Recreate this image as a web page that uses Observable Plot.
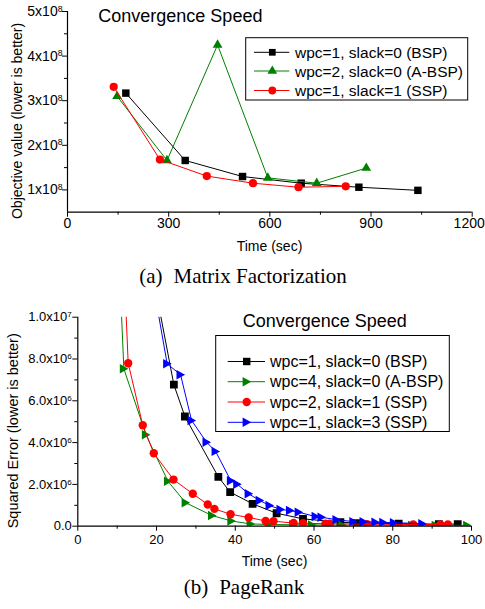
<!DOCTYPE html>
<html><head><meta charset="utf-8">
<script src="https://cdn.jsdelivr.net/npm/d3@7"></script>
<script src="https://cdn.jsdelivr.net/npm/@observablehq/plot@0.6"></script>
<style>
body{margin:0;background:#fff;}
#wrap{position:relative;width:485px;height:609px;overflow:hidden;font-family:"Liberation Sans",Arial,sans-serif;}
#chartA{position:absolute;left:0;top:0;}
#chartB{position:absolute;left:0;top:300px;}
#captions{position:absolute;left:0;top:0;}
</style></head><body>
<div id="wrap"><div id="chartA"></div><div id="chartB"></div><svg id="captions" width="485" height="609"></svg></div>
<script>
// ---------- (a) Matrix Factorization (objective in units of 1e8) ----------
const mfSeries = ["wpc=1, slack=0 (BSP)", "wpc=2, slack=0 (A-BSP)", "wpc=1, slack=1 (SSP)"];
const mfTimeBSP = [173, 349, 519, 693, 864, 1039];
const mfObjBSP  = [3.17, 1.66, 1.30, 1.15, 1.06, 0.99];
const mfTimeABSP = [147, 295, 445, 594, 739, 886];
const mfObjABSP  = [3.10, 1.66, 4.25, 1.27, 1.15, 1.49];
const mfTimeSSP = [137, 274, 413, 550, 685, 825];
const mfObjSSP  = [3.31, 1.68, 1.31, 1.15, 1.06, 1.08];
const mfXTicks = [0, 300, 600, 900, 1200];
const mfXMinor = [150, 450, 750, 1050];
const mfYTicks = [1, 2, 3, 4, 5];
const mfYMinor = [1.5, 2.5, 3.5, 4.5];
const mfYLabels = ["1x10^8", "2x10^8", "3x10^8", "4x10^8", "5x10^8"];

// ---------- (b) PageRank (squared error in units of 1e6) ----------
const prSeries = ["wpc=1, slack=0 (BSP)", "wpc=4, slack=0 (A-BSP)", "wpc=2, slack=1 (SSP)", "wpc=1, slack=3 (SSP)"];
const prTimeBSP = [19.5, 24.4, 27.2, 35.7, 38.7, 44.4, 50.5, 57.2, 66.7, 70.8, 81.5, 91.7, 96.5];
const prErrBSP  = [11.6, 6.77, 5.25, 2.36, 1.63, 1.07, 0.62, 0.35, 0.19, 0.15, 0.12, 0.10, 0.10];
const prTimeABSP = [6.1, 11.7, 17.3, 22.9, 27.4, 34.1, 39.0, 43.9, 48.5, 54.7, 59.5, 67.2, 72.6, 80.3, 84.9, 90.9, 98.9];
const prErrABSP  = [31.6, 7.53, 4.38, 2.15, 1.12, 0.51, 0.25, 0.11, 0.08, 0.07, 0.06, 0.05, 0.05, 0.04, 0.04, 0.04, 0.04];
const prTimeSSP2 = [9.0, 12.8, 16.5, 19.3, 24.3, 29.2, 33.0, 34.7, 38.8, 43.4, 47.7, 49.7, 54.8, 57.2, 62.9, 64.0, 73.5, 85.2, 92.1, 94.0];
const prErrSSP2  = [24.5, 7.80, 4.83, 3.49, 2.23, 1.55, 1.04, 0.83, 0.57, 0.42, 0.25, 0.24, 0.15, 0.14, 0.12, 0.12, 0.10, 0.08, 0.08, 0.08];
const prTimeSSP3 = [19.5, 22.7, 26.1, 28.9, 32.7, 35.0, 38.9, 40.5, 43.4, 46.2, 48.7, 51.5, 53.9, 56.1, 60.4, 61.9, 65.7, 70.0, 72.6, 75.6, 77.6, 80.3, 87.5];
const prErrSSP3  = [11.2, 7.77, 7.25, 5.06, 4.02, 3.58, 2.17, 2.01, 1.55, 1.23, 0.99, 0.80, 0.75, 0.67, 0.46, 0.43, 0.31, 0.22, 0.21, 0.19, 0.18, 0.17, 0.12];
const prXTicks = [0, 20, 40, 60, 80, 100];
const prXMinor = [10, 30, 50, 70, 90];
const prYTicks = [0, 2, 4, 6, 8, 10];
const prYMinor = [1, 3, 5, 7, 9];
const prYLabels = ["0.0", "2.0x10^6", "4.0x10^6", "6.0x10^6", "8.0x10^6", "1.0x10^7"];

const BLACK = "#000000", GREEN = "#008000", RED = "#ff0000", BLUE = "#0000ff";
const FONT = "Liberation Sans, Arial, Helvetica, sans-serif";

const zip = (ts, vs) => ts.map((t, i) => ({t, v: vs[i]}));

const triRight = {
  draw(ctx, size) {
    const r = Math.sqrt(size / Math.PI);
    ctx.moveTo(r, 0);
    ctx.lineTo(-r * 0.9, -r * 1.05);
    ctx.lineTo(-r * 0.9, r * 1.05);
    ctx.closePath();
  }
};

function supify(svg) {
  d3.select(svg).selectAll("text").each(function () {
    const s = this.textContent;
    const k = s.indexOf("^");
    if (k < 0) return;
    const t = d3.select(this);
    t.text(null);
    t.append("tspan").text(s.slice(0, k));
    t.append("tspan").attr("dy", "-0.5em").attr("font-size", "0.62em").text(s.slice(k + 1));
  });
}

function addLegend(svg, o) {
  const g = d3.select(svg).append("g").attr("text-anchor", "start");
  g.append("rect").attr("x", o.x0).attr("y", o.y0).attr("width", o.x1 - o.x0).attr("height", o.y1 - o.y0)
    .attr("fill", "white").attr("stroke", "black").attr("stroke-width", 1);
  o.entries.forEach((e, i) => {
    const y = o.ys[i];
    g.append("line").attr("x1", o.lx1).attr("x2", o.lx2).attr("y1", y).attr("y2", y)
      .attr("stroke", e.color).attr("stroke-width", 1);
    g.append("path").attr("transform", `translate(${o.mx},${y})`)
      .attr("d", d3.symbol(e.symbol, Math.PI * e.r * e.r)()).attr("fill", e.color);
    g.append("text").attr("x", o.tx).attr("y", y).attr("dy", "0.36em").attr("text-anchor", "start")
      .attr("font-family", FONT).attr("font-size", o.fontSize).attr("fill", "black").text(e.label);
  });
}

// ================= Chart A =================
const mfData = [
  {d: zip(mfTimeBSP, mfObjBSP), color: BLACK, symbol: "square", r: 4.2},
  {d: zip(mfTimeABSP, mfObjABSP), color: GREEN, symbol: "triangle", r: 3.6},
  {d: zip(mfTimeSSP, mfObjSSP), color: RED, symbol: "circle", r: 4.1}
];
const svgA = Plot.plot({
  width: 485, height: 262,
  marginLeft: 67, marginRight: 13.3, marginTop: 11, marginBottom: 50.3,
  x: {domain: [0, 1200], label: null},
  y: {domain: [0.5, 5], label: null},
  style: {fontFamily: FONT, fontSize: "14px", color: "#000", background: "transparent", overflow: "visible"},
  marks: [
    Plot.axisX({ticks: mfXTicks, tickSize: 5, tickPadding: 1, label: null, tickFormat: d => String(d)}),
    Plot.axisX({ticks: mfXMinor, tickSize: 3, label: null, tickFormat: () => ""}),
    Plot.axisY({ticks: mfYTicks, tickSize: 5, tickPadding: 0, label: null, tickFormat: d => mfYLabels[mfYTicks.indexOf(d)]}),
    Plot.axisY({ticks: mfYMinor, tickSize: 3, label: null, tickFormat: () => ""}),
    Plot.ruleX([0], {stroke: "black", strokeWidth: 1.2}),
    Plot.ruleY([0.5], {stroke: "black", strokeWidth: 1.2}),
    ...mfData.flatMap(s => [
      Plot.line(s.d, {x: "t", y: "v", stroke: s.color, strokeWidth: 1}),
      Plot.dot(s.d, {x: "t", y: "v", symbol: s.symbol, r: s.r, fill: s.color, stroke: "none"})
    ])
  ]
});
document.getElementById("chartA").appendChild(svgA);
supify(svgA);
{
  const s = d3.select(svgA);
  // keep the last x tick label inside the page
  s.selectAll("text").filter(function () { return this.textContent === "1200"; }).attr("dx", -3);
  s.append("text").attr("x", 98.3).attr("y", 21.7).attr("text-anchor", "start").attr("font-family", FONT).attr("font-size", 18).text("Convergence Speed");
  s.append("text").attr("x", 269.5).attr("y", 251).attr("text-anchor", "middle").attr("font-family", FONT).attr("font-size", 14).text("Time (sec)");
  s.append("text").attr("transform", "translate(21.7,121) rotate(-90)").attr("text-anchor", "middle").attr("font-family", FONT).attr("font-size", 14).text("Objective value (lower is better)");
  addLegend(svgA, {
    x0: 245.7, x1: 467.7, y0: 37.7, y1: 100,
    ys: [52.3, 71, 90.5], lx1: 254, lx2: 289.3, mx: 272.3, tx: 295, fontSize: 15.5,
    entries: mfSeries.map((label, i) => ({label, color: mfData[i].color,
      symbol: [d3.symbolSquare, d3.symbolTriangle, d3.symbolCircle][i], r: [3.8, 3.6, 3.9][i]}))
  });
}

// ================= Chart B =================
const prData = [
  {d: zip(prTimeBSP, prErrBSP), color: BLACK, symbol: "square", r: 4.4},
  {d: zip(prTimeABSP, prErrABSP), color: GREEN, symbol: triRight, r: 4.5},
  {d: zip(prTimeSSP2, prErrSSP2), color: RED, symbol: "circle", r: 4.2},
  {d: zip(prTimeSSP3, prErrSSP3), color: BLUE, symbol: triRight, r: 4.5}
];
const svgB = Plot.plot({
  width: 485, height: 275,
  marginLeft: 77.3, marginRight: 14, marginTop: 16.7, marginBottom: 49.3,
  x: {domain: [0, 100], label: null},
  y: {domain: [0, 10], label: null},
  style: {fontFamily: FONT, fontSize: "13px", color: "#000", background: "transparent", overflow: "visible"},
  marks: [
    Plot.axisX({ticks: prXTicks, tickSize: 5, tickPadding: 4, label: null, tickFormat: d => String(d)}),
    Plot.axisX({ticks: prXMinor, tickSize: 3, label: null, tickFormat: () => ""}),
    Plot.axisY({ticks: prYTicks, tickSize: 5, tickPadding: 1, label: null, tickFormat: d => prYLabels[prYTicks.indexOf(d)]}),
    Plot.axisY({ticks: prYMinor, tickSize: 3, label: null, tickFormat: () => ""}),
    ...prData.flatMap(s => [
      Plot.line(s.d, {x: "t", y: "v", stroke: s.color, strokeWidth: 1, clip: true}),
      Plot.dot(s.d, {x: "t", y: "v", symbol: s.symbol, r: s.r, fill: s.color, stroke: "none", clip: true})
    ]),
    Plot.ruleX([0], {stroke: "black", strokeWidth: 1.2}),
    Plot.ruleY([0], {stroke: "black", strokeWidth: 1.2})
  ]
});
document.getElementById("chartB").appendChild(svgB);
supify(svgB);
{
  const s = d3.select(svgB);
  s.append("text").attr("x", 242.7).attr("y", 26.7).attr("text-anchor", "start").attr("font-family", FONT).attr("font-size", 18).text("Convergence Speed");
  s.append("text").attr("x", 274.5).attr("y", 266).attr("text-anchor", "middle").attr("font-family", FONT).attr("font-size", 14).text("Time (sec)");
  s.append("text").attr("transform", "translate(17.5,130.8) rotate(-90)").attr("text-anchor", "middle").attr("font-family", FONT).attr("font-size", 14.5).text("Squared Error (lower is better)");
  addLegend(svgB, {
    x0: 215.7, x1: 449.3, y0: 35.5, y1: 131.5,
    ys: [61.5, 81.7, 102, 122.3], lx1: 227.7, lx2: 265, mx: 246.7, tx: 270, fontSize: 16,
    entries: prSeries.map((label, i) => ({label, color: prData[i].color,
      symbol: [d3.symbolSquare, triRight, d3.symbolCircle, triRight][i], r: [4.2, 4.5, 4.2, 4.5][i]}))
  });
}

// ================= Captions =================
{
  const c = d3.select("#captions");
  const a = c.append("text").attr("x", 243).attr("y", 283).attr("text-anchor", "middle")
    .attr("font-family", "Liberation Serif, Times New Roman, serif").attr("font-size", 21);
  a.append("tspan").text("(a)");
  a.append("tspan").attr("dx", 11).text("Matrix Factorization");
  const b = c.append("text").attr("x", 244).attr("y", 594).attr("text-anchor", "middle")
    .attr("font-family", "Liberation Serif, Times New Roman, serif").attr("font-size", 21);
  b.append("tspan").text("(b)");
  b.append("tspan").attr("dx", 11).text("PageRank");
}
</script>
</body></html>
